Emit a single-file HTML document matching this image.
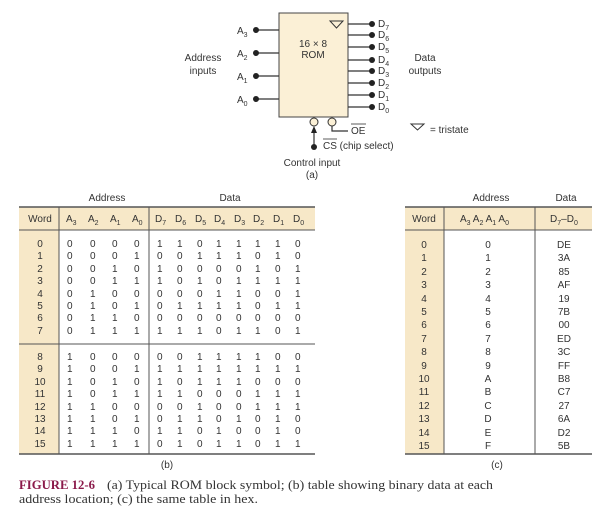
<!DOCTYPE html>
<html><head><meta charset="utf-8"><style>
html,body{margin:0;padding:0;background:#fff;}
svg{display:block;}
text{font-family:"Liberation Sans",sans-serif;font-size:10px;fill:#333;}
.s{font-size:7px;}
.c{text-anchor:middle;}
.cap{font-family:"Liberation Serif",serif;font-size:12.5px;fill:#333;}
</style></head><body>
<svg width="602" height="514" viewBox="0 0 602 514" xmlns="http://www.w3.org/2000/svg">
<!-- (a) ROM block -->
<rect x="279" y="13" width="69" height="104" fill="#fbf0d6" stroke="#444" stroke-width="1"/>
<polygon points="330,21 343,21 336.5,28" fill="none" stroke="#333" stroke-width="1"/>
<text x="313" y="47" class="c">16 × 8</text>
<text x="313" y="58" class="c">ROM</text>
<g stroke="#333" stroke-width="1.2">
<line x1="256" y1="30" x2="279" y2="30"/><line x1="256" y1="53" x2="279" y2="53"/>
<line x1="256" y1="76" x2="279" y2="76"/><line x1="256" y1="99" x2="279" y2="99"/>
<line x1="348" y1="24" x2="372" y2="24"/><line x1="348" y1="35" x2="372" y2="35"/>
<line x1="348" y1="47" x2="372" y2="47"/><line x1="348" y1="60" x2="372" y2="60"/>
<line x1="348" y1="71" x2="372" y2="71"/><line x1="348" y1="83" x2="372" y2="83"/>
<line x1="348" y1="95" x2="372" y2="95"/><line x1="348" y1="107" x2="372" y2="107"/>
</g>
<g fill="#222">
<circle cx="256" cy="30" r="3"/><circle cx="256" cy="53" r="3"/><circle cx="256" cy="76" r="3"/><circle cx="256" cy="99" r="3"/>
<circle cx="372" cy="24" r="3"/><circle cx="372" cy="35" r="3"/><circle cx="372" cy="47" r="3"/><circle cx="372" cy="60" r="3"/>
<circle cx="372" cy="71" r="3"/><circle cx="372" cy="83" r="3"/><circle cx="372" cy="95" r="3"/><circle cx="372" cy="107" r="3"/>
</g>
<text x="237" y="34">A<tspan class="s" dy="3">3</tspan></text>
<text x="237" y="57">A<tspan class="s" dy="3">2</tspan></text>
<text x="237" y="80">A<tspan class="s" dy="3">1</tspan></text>
<text x="237" y="103">A<tspan class="s" dy="3">0</tspan></text>
<text x="378" y="27">D<tspan class="s" dy="3">7</tspan></text>
<text x="378" y="38">D<tspan class="s" dy="3">6</tspan></text>
<text x="378" y="50">D<tspan class="s" dy="3">5</tspan></text>
<text x="378" y="63">D<tspan class="s" dy="3">4</tspan></text>
<text x="378" y="74">D<tspan class="s" dy="3">3</tspan></text>
<text x="378" y="86">D<tspan class="s" dy="3">2</tspan></text>
<text x="378" y="98">D<tspan class="s" dy="3">1</tspan></text>
<text x="378" y="110">D<tspan class="s" dy="3">0</tspan></text>
<text x="203" y="61" class="c">Address</text>
<text x="203" y="74" class="c">inputs</text>
<text x="425" y="61" class="c">Data</text>
<text x="425" y="74" class="c">outputs</text>
<circle cx="314" cy="122" r="4" fill="#fbf0d6" stroke="#333"/>
<circle cx="332" cy="122" r="4" fill="#fbf0d6" stroke="#333"/>
<polyline points="332,126 332,131 348,131" fill="none" stroke="#333" stroke-width="1.2"/>
<line x1="314" y1="147" x2="314" y2="131" stroke="#333" stroke-width="1.2"/>
<polygon points="311,133 317,133 314,126" fill="#222"/>
<circle cx="314" cy="147" r="3" fill="#222"/>
<text x="351" y="134">OE</text><line x1="351" y1="124" x2="366" y2="124" stroke="#333" stroke-width="0.8"/>
<text x="323" y="149">CS (chip select)</text><line x1="323" y1="139" x2="337" y2="139" stroke="#333" stroke-width="0.8"/>
<text x="312" y="166" class="c">Control input</text>
<text x="312" y="178" class="c">(a)</text>
<polygon points="411,124 424,124 417.5,130" fill="none" stroke="#333" stroke-width="1"/>
<text x="430" y="133">= tristate</text>

<!-- (b) table -->
<rect x="19" y="207" width="296" height="23" fill="#f7e8c8"/>
<rect x="19" y="230" width="40" height="224" fill="#f7e8c8"/>
<g stroke="#555">
<line x1="19" y1="207" x2="315" y2="207" stroke-width="1.5"/>
<line x1="19" y1="230" x2="315" y2="230" stroke-width="1"/>
<line x1="19" y1="344" x2="315" y2="344" stroke-width="1"/>
<line x1="19" y1="454" x2="315" y2="454" stroke-width="1.5"/>
<line x1="59" y1="207" x2="59" y2="454" stroke-width="1"/>
<line x1="149" y1="207" x2="149" y2="454" stroke-width="1"/>
</g>
<text x="107" y="201" class="c">Address</text>
<text x="230" y="201" class="c">Data</text>
<text x="40" y="222" class="c">Word</text>
<g>
<text x="66" y="222">A<tspan class="s" dy="3">3</tspan></text>
<text x="88" y="222">A<tspan class="s" dy="3">2</tspan></text>
<text x="110" y="222">A<tspan class="s" dy="3">1</tspan></text>
<text x="132" y="222">A<tspan class="s" dy="3">0</tspan></text>
<text x="155" y="222">D<tspan class="s" dy="3">7</tspan></text>
<text x="175" y="222">D<tspan class="s" dy="3">6</tspan></text>
<text x="195" y="222">D<tspan class="s" dy="3">5</tspan></text>
<text x="214" y="222">D<tspan class="s" dy="3">4</tspan></text>
<text x="234" y="222">D<tspan class="s" dy="3">3</tspan></text>
<text x="253" y="222">D<tspan class="s" dy="3">2</tspan></text>
<text x="273" y="222">D<tspan class="s" dy="3">1</tspan></text>
<text x="293" y="222">D<tspan class="s" dy="3">0</tspan></text>
</g>
<g>
<text x="40" y="247" class="c">0</text><text x="40" y="259" class="c">1</text><text x="40" y="272" class="c">2</text><text x="40" y="284" class="c">3</text>
<text x="40" y="297" class="c">4</text><text x="40" y="309" class="c">5</text><text x="40" y="321" class="c">6</text><text x="40" y="334" class="c">7</text>
<text x="40" y="360" class="c">8</text><text x="40" y="372" class="c">9</text><text x="40" y="385" class="c">10</text><text x="40" y="397" class="c">11</text>
<text x="40" y="410" class="c">12</text><text x="40" y="422" class="c">13</text><text x="40" y="434" class="c">14</text><text x="40" y="447" class="c">15</text>
</g>
<g>
<text y="247"><tspan x="67">0</tspan><tspan x="90">0</tspan><tspan x="112">0</tspan><tspan x="134">0</tspan><tspan x="157">1</tspan><tspan x="177">1</tspan><tspan x="197">0</tspan><tspan x="216">1</tspan><tspan x="236">1</tspan><tspan x="255">1</tspan><tspan x="275">1</tspan><tspan x="295">0</tspan></text>
<text y="259"><tspan x="67">0</tspan><tspan x="90">0</tspan><tspan x="112">0</tspan><tspan x="134">1</tspan><tspan x="157">0</tspan><tspan x="177">0</tspan><tspan x="197">1</tspan><tspan x="216">1</tspan><tspan x="236">1</tspan><tspan x="255">0</tspan><tspan x="275">1</tspan><tspan x="295">0</tspan></text>
<text y="272"><tspan x="67">0</tspan><tspan x="90">0</tspan><tspan x="112">1</tspan><tspan x="134">0</tspan><tspan x="157">1</tspan><tspan x="177">0</tspan><tspan x="197">0</tspan><tspan x="216">0</tspan><tspan x="236">0</tspan><tspan x="255">1</tspan><tspan x="275">0</tspan><tspan x="295">1</tspan></text>
<text y="284"><tspan x="67">0</tspan><tspan x="90">0</tspan><tspan x="112">1</tspan><tspan x="134">1</tspan><tspan x="157">1</tspan><tspan x="177">0</tspan><tspan x="197">1</tspan><tspan x="216">0</tspan><tspan x="236">1</tspan><tspan x="255">1</tspan><tspan x="275">1</tspan><tspan x="295">1</tspan></text>
<text y="297"><tspan x="67">0</tspan><tspan x="90">1</tspan><tspan x="112">0</tspan><tspan x="134">0</tspan><tspan x="157">0</tspan><tspan x="177">0</tspan><tspan x="197">0</tspan><tspan x="216">1</tspan><tspan x="236">1</tspan><tspan x="255">0</tspan><tspan x="275">0</tspan><tspan x="295">1</tspan></text>
<text y="309"><tspan x="67">0</tspan><tspan x="90">1</tspan><tspan x="112">0</tspan><tspan x="134">1</tspan><tspan x="157">0</tspan><tspan x="177">1</tspan><tspan x="197">1</tspan><tspan x="216">1</tspan><tspan x="236">1</tspan><tspan x="255">0</tspan><tspan x="275">1</tspan><tspan x="295">1</tspan></text>
<text y="321"><tspan x="67">0</tspan><tspan x="90">1</tspan><tspan x="112">1</tspan><tspan x="134">0</tspan><tspan x="157">0</tspan><tspan x="177">0</tspan><tspan x="197">0</tspan><tspan x="216">0</tspan><tspan x="236">0</tspan><tspan x="255">0</tspan><tspan x="275">0</tspan><tspan x="295">0</tspan></text>
<text y="334"><tspan x="67">0</tspan><tspan x="90">1</tspan><tspan x="112">1</tspan><tspan x="134">1</tspan><tspan x="157">1</tspan><tspan x="177">1</tspan><tspan x="197">1</tspan><tspan x="216">0</tspan><tspan x="236">1</tspan><tspan x="255">1</tspan><tspan x="275">0</tspan><tspan x="295">1</tspan></text>
<text y="360"><tspan x="67">1</tspan><tspan x="90">0</tspan><tspan x="112">0</tspan><tspan x="134">0</tspan><tspan x="157">0</tspan><tspan x="177">0</tspan><tspan x="197">1</tspan><tspan x="216">1</tspan><tspan x="236">1</tspan><tspan x="255">1</tspan><tspan x="275">0</tspan><tspan x="295">0</tspan></text>
<text y="372"><tspan x="67">1</tspan><tspan x="90">0</tspan><tspan x="112">0</tspan><tspan x="134">1</tspan><tspan x="157">1</tspan><tspan x="177">1</tspan><tspan x="197">1</tspan><tspan x="216">1</tspan><tspan x="236">1</tspan><tspan x="255">1</tspan><tspan x="275">1</tspan><tspan x="295">1</tspan></text>
<text y="385"><tspan x="67">1</tspan><tspan x="90">0</tspan><tspan x="112">1</tspan><tspan x="134">0</tspan><tspan x="157">1</tspan><tspan x="177">0</tspan><tspan x="197">1</tspan><tspan x="216">1</tspan><tspan x="236">1</tspan><tspan x="255">0</tspan><tspan x="275">0</tspan><tspan x="295">0</tspan></text>
<text y="397"><tspan x="67">1</tspan><tspan x="90">0</tspan><tspan x="112">1</tspan><tspan x="134">1</tspan><tspan x="157">1</tspan><tspan x="177">1</tspan><tspan x="197">0</tspan><tspan x="216">0</tspan><tspan x="236">0</tspan><tspan x="255">1</tspan><tspan x="275">1</tspan><tspan x="295">1</tspan></text>
<text y="410"><tspan x="67">1</tspan><tspan x="90">1</tspan><tspan x="112">0</tspan><tspan x="134">0</tspan><tspan x="157">0</tspan><tspan x="177">0</tspan><tspan x="197">1</tspan><tspan x="216">0</tspan><tspan x="236">0</tspan><tspan x="255">1</tspan><tspan x="275">1</tspan><tspan x="295">1</tspan></text>
<text y="422"><tspan x="67">1</tspan><tspan x="90">1</tspan><tspan x="112">0</tspan><tspan x="134">1</tspan><tspan x="157">0</tspan><tspan x="177">1</tspan><tspan x="197">1</tspan><tspan x="216">0</tspan><tspan x="236">1</tspan><tspan x="255">0</tspan><tspan x="275">1</tspan><tspan x="295">0</tspan></text>
<text y="434"><tspan x="67">1</tspan><tspan x="90">1</tspan><tspan x="112">1</tspan><tspan x="134">0</tspan><tspan x="157">1</tspan><tspan x="177">1</tspan><tspan x="197">0</tspan><tspan x="216">1</tspan><tspan x="236">0</tspan><tspan x="255">0</tspan><tspan x="275">1</tspan><tspan x="295">0</tspan></text>
<text y="447"><tspan x="67">1</tspan><tspan x="90">1</tspan><tspan x="112">1</tspan><tspan x="134">1</tspan><tspan x="157">0</tspan><tspan x="177">1</tspan><tspan x="197">0</tspan><tspan x="216">1</tspan><tspan x="236">1</tspan><tspan x="255">0</tspan><tspan x="275">1</tspan><tspan x="295">1</tspan></text>
</g>
<text x="167" y="468" class="c">(b)</text>

<!-- (c) table -->
<rect x="405" y="207" width="187" height="23" fill="#f7e8c8"/>
<rect x="405" y="230" width="39" height="224" fill="#f7e8c8"/>
<g stroke="#555">
<line x1="405" y1="207" x2="592" y2="207" stroke-width="1.5"/>
<line x1="405" y1="230" x2="592" y2="230" stroke-width="1"/>
<line x1="405" y1="454" x2="592" y2="454" stroke-width="1.5"/>
<line x1="444" y1="207" x2="444" y2="454" stroke-width="1"/>
<line x1="535" y1="207" x2="535" y2="454" stroke-width="1"/>
</g>
<text x="491" y="201" class="c">Address</text>
<text x="566" y="201" class="c">Data</text>
<text x="424" y="222" class="c">Word</text>
<text x="460" y="222">A<tspan class="s" dy="3">3</tspan><tspan dy="-3"> A</tspan><tspan class="s" dy="3">2</tspan><tspan dy="-3"> A</tspan><tspan class="s" dy="3">1</tspan><tspan dy="-3"> A</tspan><tspan class="s" dy="3">0</tspan></text>
<text x="550" y="222">D<tspan class="s" dy="3">7</tspan><tspan dy="-3">–D</tspan><tspan class="s" dy="3">0</tspan></text>
<g>
<text x="424" y="248" class="c">0</text><text x="488" y="248" class="c">0</text><text x="564" y="248" class="c">DE</text>
<text x="424" y="261" class="c">1</text><text x="488" y="261" class="c">1</text><text x="564" y="261" class="c">3A</text>
<text x="424" y="275" class="c">2</text><text x="488" y="275" class="c">2</text><text x="564" y="275" class="c">85</text>
<text x="424" y="288" class="c">3</text><text x="488" y="288" class="c">3</text><text x="564" y="288" class="c">AF</text>
<text x="424" y="302" class="c">4</text><text x="488" y="302" class="c">4</text><text x="564" y="302" class="c">19</text>
<text x="424" y="315" class="c">5</text><text x="488" y="315" class="c">5</text><text x="564" y="315" class="c">7B</text>
<text x="424" y="328" class="c">6</text><text x="488" y="328" class="c">6</text><text x="564" y="328" class="c">00</text>
<text x="424" y="342" class="c">7</text><text x="488" y="342" class="c">7</text><text x="564" y="342" class="c">ED</text>
<text x="424" y="355" class="c">8</text><text x="488" y="355" class="c">8</text><text x="564" y="355" class="c">3C</text>
<text x="424" y="369" class="c">9</text><text x="488" y="369" class="c">9</text><text x="564" y="369" class="c">FF</text>
<text x="424" y="382" class="c">10</text><text x="488" y="382" class="c">A</text><text x="564" y="382" class="c">B8</text>
<text x="424" y="395" class="c">11</text><text x="488" y="395" class="c">B</text><text x="564" y="395" class="c">C7</text>
<text x="424" y="409" class="c">12</text><text x="488" y="409" class="c">C</text><text x="564" y="409" class="c">27</text>
<text x="424" y="422" class="c">13</text><text x="488" y="422" class="c">D</text><text x="564" y="422" class="c">6A</text>
<text x="424" y="436" class="c">14</text><text x="488" y="436" class="c">E</text><text x="564" y="436" class="c">D2</text>
<text x="424" y="449" class="c">15</text><text x="488" y="449" class="c">F</text><text x="564" y="449" class="c">5B</text>
</g>
<text x="497" y="468" class="c">(c)</text>

<!-- caption -->
<text x="19" y="489" class="cap" style="fill:#8b1a4a;font-weight:bold" textLength="76" lengthAdjust="spacingAndGlyphs">FIGURE 12-6</text>
<text x="107" y="489" class="cap" textLength="386" lengthAdjust="spacingAndGlyphs">(a) Typical ROM block symbol; (b) table showing binary data at each</text>
<text x="19" y="503" class="cap" textLength="239" lengthAdjust="spacingAndGlyphs">address location; (c) the same table in hex.</text>
</svg>
</body></html>
